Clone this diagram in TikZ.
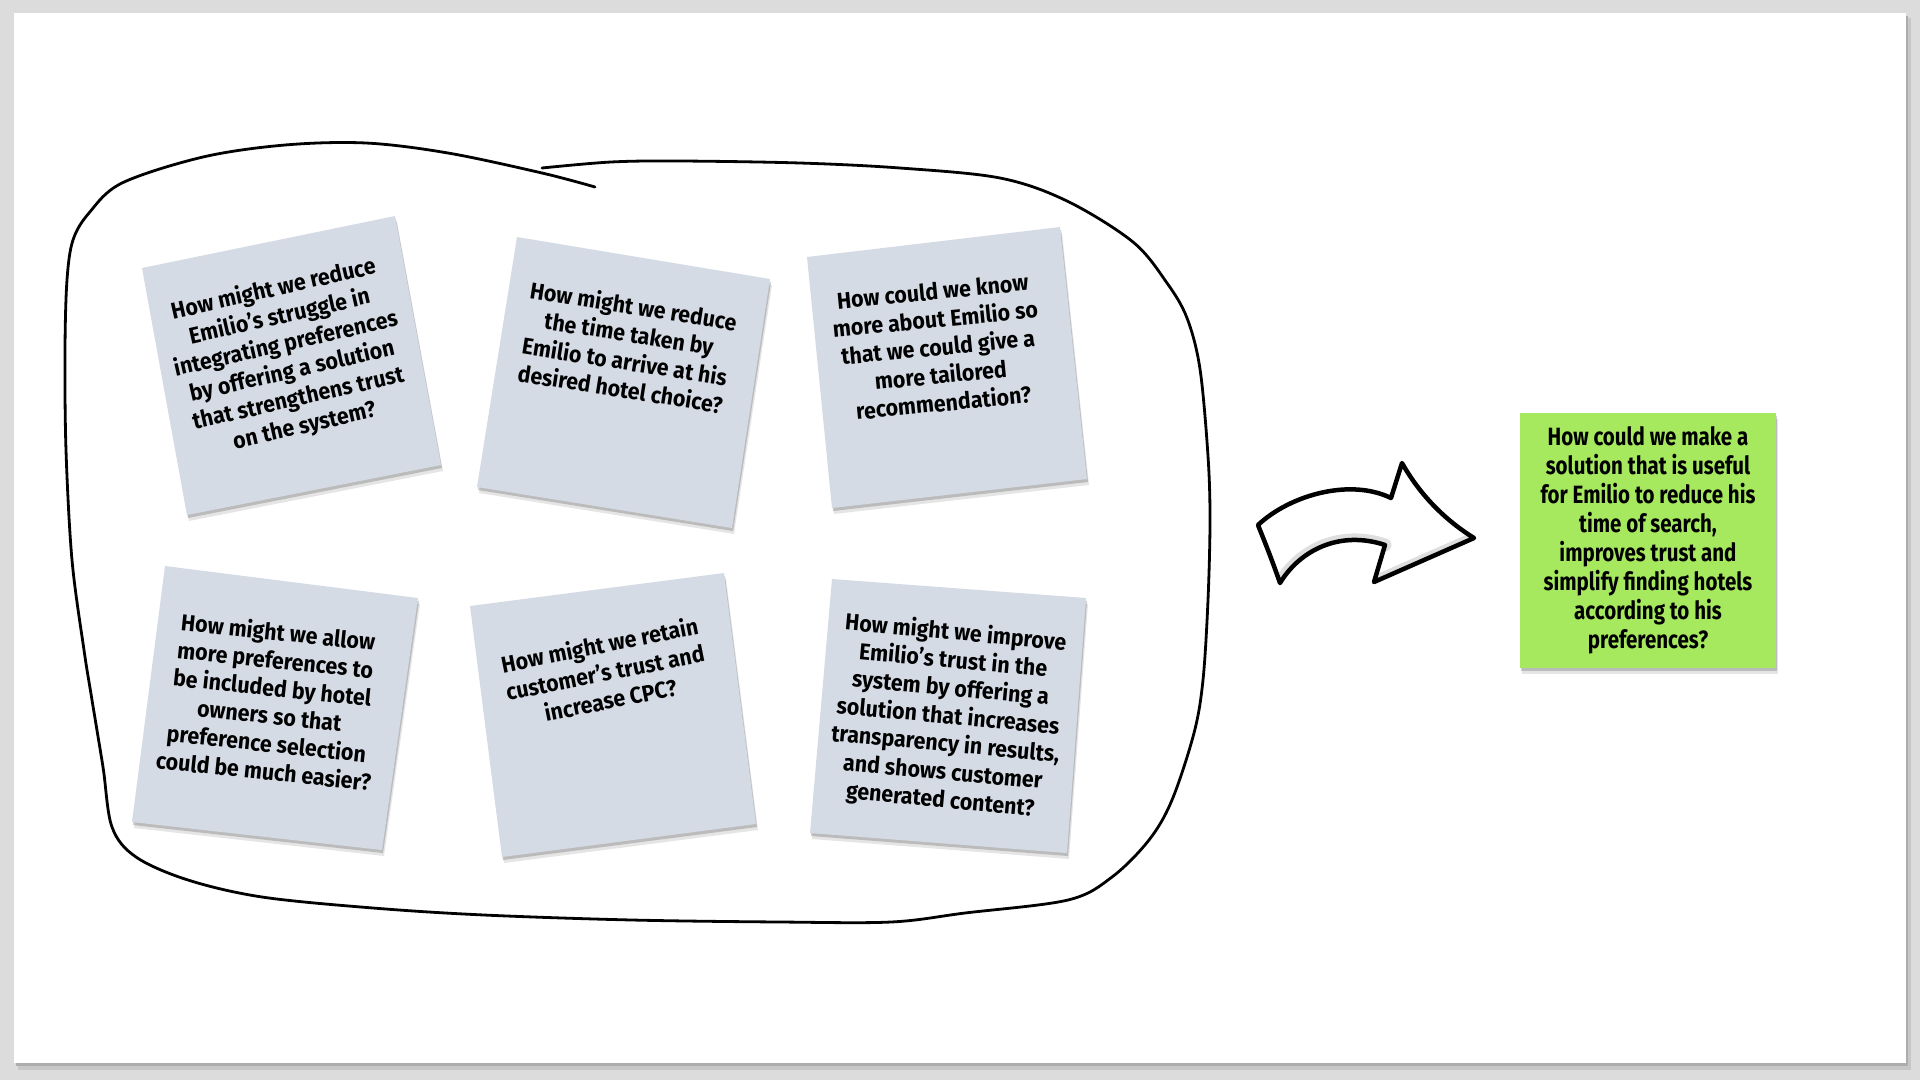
\documentclass[tikz,border=0pt]{standalone}
\usepackage{fontspec}
\setmainfont{Fira Sans}
\newfontfamily\notefont[FakeStretch=0.93]{Fira Sans}
\newfontfamily\greenfont[FakeStretch=0.82]{Fira Sans}
\definecolor{bggray}{RGB}{220,220,220}
\definecolor{notegray}{RGB}{213,219,229}
\definecolor{notegreen}{RGB}{166,232,94}
\newcommand\quadnote[5]{%
  \begin{scope}[shift={(2,6)}]\fill[black,opacity=0.10] #2 -- #3 -- #4 -- #5 -- cycle;\end{scope}
  \begin{scope}[shift={(1,3)}]\fill[black,opacity=0.18] #2 -- #3 -- #4 -- #5 -- cycle;\end{scope}
  \fill[#1] #2 -- #3 -- #4 -- #5 -- cycle;}
\newcommand\arrowpath{(1258,525) .. controls (1290,495) and (1350,478) .. (1391,498) -- (1402,463)
  .. controls (1420,495) and (1445,520) .. (1474,538) -- (1374,582) -- (1385,545)
  .. controls (1340,530) and (1300,550) .. (1280,583) .. controls (1272,560) and (1266,545) .. cycle}
\begin{document}
\begin{tikzpicture}[x=1pt,y=-1pt,
  notetext/.style={font=\notefont\bfseries\fontsize{23}{28}\selectfont, align=center, text=black, inner sep=0pt},
  greentext/.style={font=\greenfont\bfseries\fontsize{25}{29}\selectfont, align=center, text=black, inner sep=0pt}]
\useasboundingbox (0,0) rectangle (1920,1080);
% background and slide
\fill[bggray] (0,0) rectangle (1920,1080);
\fill[black!22] (18,18) rectangle (1911,1070);
\fill[black!32] (16,16) rectangle (1908,1066);
\fill[white] (14,13) rectangle (1906,1063);

% hand-drawn loop
\draw[line width=2.8pt, line cap=round, line join=round] plot[smooth, tension=0.55] coordinates {
 (595,187) (542,173) (448,153) (366,143) (285,145) (203,157) (122,183) (89,213) (73,240) (67,280)
 (65,350) (66,450) (72,560) (84,650) (92,700) (103,767) (112,827) (136,857) (188,880) (262,897)
 (373,908) (484,915) (632,920) (780,922) (891,922) (965,913) (1068,900) (1112,877) (1149,840)
 (1172,800) (1194,733) (1203,680) (1208,600) (1210,520) (1208,456) (1200,369) (1187,318)
 (1167,283) (1133,242) (1067,201) (1000,178) (900,168) (800,163) (680,161) (611,162) (542,168)};

% sticky notes
\quadnote{notegray}{(142,268)}{(395,216)}{(441,465)}{(187,515)}
\quadnote{notegray}{(517,237)}{(770,279)}{(732,528)}{(477,487)}
\quadnote{notegray}{(807,257)}{(1060,227)}{(1087,479)}{(832,508)}
\quadnote{notegray}{(165,566)}{(418,598)}{(382,850)}{(132,822)}
\quadnote{notegray}{(470,606)}{(724,573)}{(756,824)}{(502,857)}
\quadnote{notegray}{(832,579)}{(1086,598)}{(1067,853)}{(810,833)}
\quadnote{notegreen}{(1520,413)}{(1776,413)}{(1776,668)}{(1520,668)}

\node[notetext, rotate=12.8] (n1) at (289,358) {How might we reduce\\Emilio’s struggle in\\integrating preferences\\by offering a solution\\that strengthens trust\\on the system?};
\node[notetext, rotate=-9] (n2) at (627,347) {How might we reduce\\the time taken by\\Emilio to arrive at his\\desired hotel choice?};
\node[notetext, rotate=5.6] (n3) at (938,347) {How could we know\\more about Emilio so\\that we could give a\\more tailored\\recommendation?};
\node[notetext, rotate=-6] (n4) at (271,701) {How might we allow\\more preferences to\\be included by hotel\\owners so that\\preference selection\\could be much easier?};
\node[notetext, rotate=11.3] (n5) at (605,672) {How might we retain\\customer’s trust and\\increase CPC?};
\node[notetext, rotate=-5.3] (n6) at (948,717) {How might we improve\\Emilio’s trust in the\\system by offering a\\solution that increases\\transparency in results,\\and shows customer\\generated content?};
\node[greentext] (g) at (1648,540) {How could we make a\\solution that is useful\\for Emilio to reduce his\\time of search,\\improves trust and\\simplify finding hotels\\according to his\\preferences?};

% curved block arrow
\begin{scope}
\clip \arrowpath;
\fill[white] (1240,450) rectangle (1490,600);
\draw[black!13, line width=13pt, line cap=round] (1280,583) .. controls (1300,550) and (1340,530) .. (1385,545);
\draw[black!13, line width=12pt] (1374,582) -- (1474,538);
\end{scope}
\draw[line width=4.5pt, line join=round] \arrowpath;
\end{tikzpicture}
\end{document}
